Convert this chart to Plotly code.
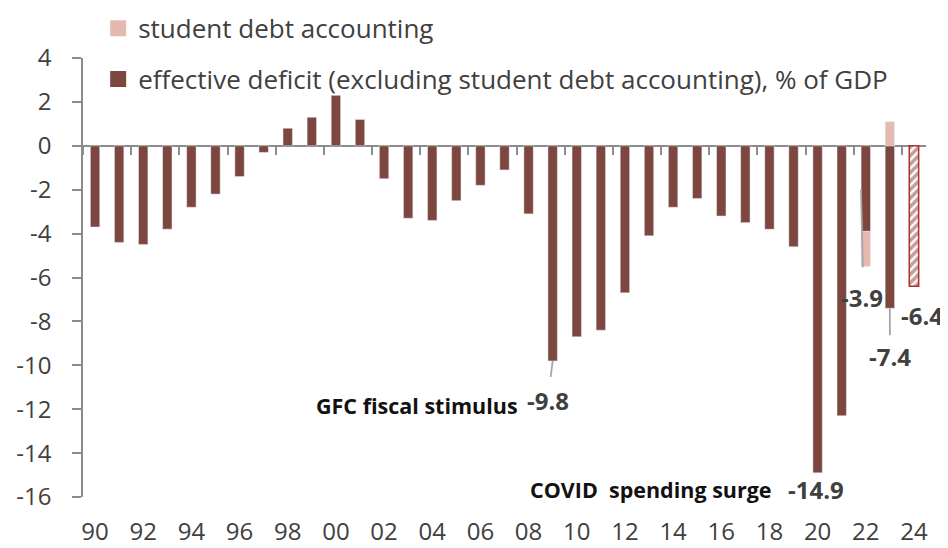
import plotly.graph_objects as go

years = list(range(1990, 2024))
effective_deficit = [-3.7, -4.4, -4.5, -3.8, -2.8, -2.2, -1.4, -0.3, 0.8, 1.3,
                     2.3, 1.2, -1.5, -3.3, -3.4, -2.5, -1.8, -1.1, -3.1, -9.8,
                     -8.7, -8.4, -6.7, -4.1, -2.8, -2.4, -3.2, -3.5, -3.8, -4.6,
                     -14.9, -12.3, -3.9, -7.4]
student_years = [2022, 2023]
student_debt = [-1.6, 1.1]
proj_years = [2024]
proj_deficit = [-6.4]
tick_years = list(range(1990, 2025, 2))
tick_labels = [f"{y % 100:02d}" for y in tick_years]
boundary_ticks = [y + 0.5 for y in range(1989, 2024, 2)]
y_ticks = list(range(-16, 5, 2))
y_tick_labels = [str(v) for v in y_ticks]

DARK = "#7d463f"
LIGHT = "#e4bab0"
GRAY_TXT = "#404040"
AXIS = "#8c8c8c"
FONT = "Open Sans"

fig = go.Figure()
fig.add_trace(go.Bar(x=years, y=effective_deficit, marker_color=DARK, width=0.39,
                     showlegend=False))
fig.add_trace(go.Bar(x=student_years, y=student_debt, marker_color=LIGHT, width=0.39,
                     showlegend=False))
fig.add_trace(go.Bar(x=proj_years, y=proj_deficit, width=0.39, showlegend=False,
                     marker=dict(color="white", line=dict(color="#a8322d", width=1.5),
                                 pattern=dict(shape="/", fgcolor="#8b3a34", bgcolor="white",
                                              size=6, solidity=0.6))))
# legend entries
fig.add_trace(go.Scatter(x=[None], y=[None], mode="markers", name="student debt accounting",
                         legendgroup="a",
                         marker=dict(symbol="square", size=16, color=LIGHT)))
fig.add_trace(go.Scatter(x=[None], y=[None], mode="markers",
                         name="effective deficit (excluding student debt accounting), % of GDP",
                         legendgroup="b",
                         marker=dict(symbol="square", size=16, color=DARK)))
# overlay axis for tick marks on the zero line
fig.add_trace(go.Scatter(x=[None], y=[None], xaxis="x2", showlegend=False))

# the page body has an 8px margin, so the figure is drawn 8px right/down
fig.update_layout(
    width=940, height=540,
    margin=dict(l=75, r=22, t=50, b=51, autoexpand=False),
    paper_bgcolor="white", plot_bgcolor="white",
    barmode="relative",
    font=dict(family=FONT, color=GRAY_TXT, size=24),
    legend=dict(x=0.018, y=1.121, xanchor="left", yanchor="top",
                traceorder="grouped", tracegroupgap=14,
                font=dict(size=26, color=GRAY_TXT), bgcolor="rgba(0,0,0,0)"),
    xaxis=dict(range=[1989.5, 2024.5], tickmode="array", tickvals=tick_years,
               ticktext=tick_labels, showline=False, ticks="", showgrid=False,
               zeroline=False, ticklabelstandoff=18,
               tickfont=dict(size=24, color=GRAY_TXT)),
    xaxis2=dict(range=[1989.5, 2024.5], overlaying="x", anchor="free", position=0.8,
                tickmode="array", tickvals=boundary_ticks, showticklabels=False,
                ticks="outside", ticklen=8, tickwidth=1.5, tickcolor=AXIS,
                showline=False, showgrid=False, zeroline=False),
    yaxis=dict(range=[-16, 4], tickmode="array", tickvals=y_ticks, ticktext=y_tick_labels,
               showgrid=False, zeroline=True,
               zerolinecolor=AXIS, zerolinewidth=2, showline=True, linecolor=AXIS,
               linewidth=1.5, ticks="outside", ticklen=9, tickwidth=1.5, tickcolor=AXIS,
               ticklabelstandoff=16, tickfont=dict(size=24, color=GRAY_TXT)),
)

LEAD = "#a6a6a6"
BOLD_GRAY = dict(family=FONT, size=24, color="#404040", weight="bold")
BOLD_BLACK = dict(family=FONT, size=21.5, color="#111111", weight="bold")

# GFC
fig.add_annotation(x=2009, y=-9.8, text="-9.8", showarrow=True, arrowhead=0,
                   arrowcolor=LEAD, arrowwidth=1.8, ax=-5, ay=40, startstandoff=6,
                   font=BOLD_GRAY)
fig.add_annotation(x=2009, y=-9.8, text="GFC fiscal stimulus", showarrow=False,
                   xanchor="right", xshift=-33, yshift=-45, font=BOLD_BLACK)
# COVID
fig.add_annotation(x=2020, y=-14.9, text="-14.9", showarrow=False, xshift=-2,
                   yshift=-17, font=BOLD_GRAY)
fig.add_annotation(x=2020, y=-14.9, text="COVID  spending surge", showarrow=False,
                   xanchor="right", xshift=-44, yshift=-17, font=BOLD_BLACK)
# 2022
fig.add_annotation(x=2022, y=-3.9, text="-3.9", showarrow=False, xshift=-4,
                   yshift=-66, font=BOLD_GRAY)
fig.add_annotation(x=2021.8, y=-2.0, ax=2021.88, ay=-5.6, axref="x", ayref="y",
                   text="", showarrow=True, arrowhead=0, arrowcolor=LEAD, arrowwidth=1.8)
# 2023
fig.add_annotation(x=2023, y=-7.4, text="-7.4", showarrow=True, arrowhead=0,
                   arrowcolor=LEAD, arrowwidth=1.8, ax=0, ay=48, startstandoff=3,
                   font=BOLD_GRAY)
# 2024
fig.add_annotation(x=2024, y=-6.4, text="-6.4", showarrow=False, xshift=8,
                   yshift=-29, font=BOLD_GRAY)

fig.write_html("out.html")
